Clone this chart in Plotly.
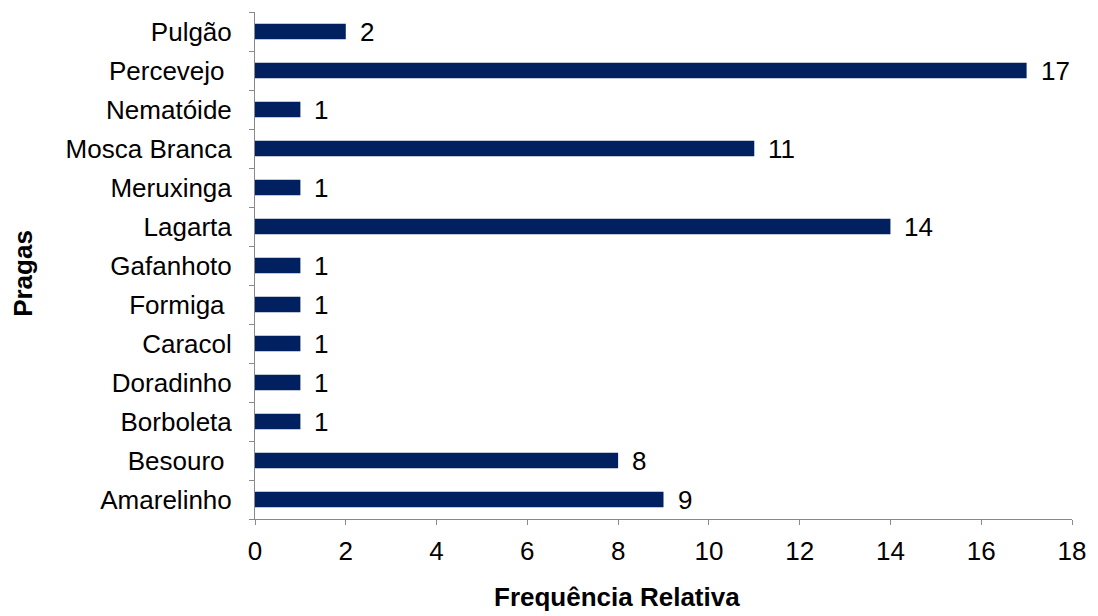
import plotly.graph_objects as go

# Pest categories (bottom to top) and their relative frequency
pragas = ["Amarelinho", "Besouro\u00a0", "Borboleta", "Doradinho", "Caracol",
          "Formiga\u00a0", "Gafanhoto", "Lagarta", "Meruxinga", "Mosca Branca",
          "Nematóide", "Percevejo\u00a0", "Pulgão"]
frequencia = [9, 8, 1, 1, 1, 1, 1, 14, 1, 11, 1, 17, 2]
x_ticks = [0, 2, 4, 6, 8, 10, 12, 14, 16, 18]

FONT = "Liberation Sans, Arial, sans-serif"
AXIS = "#898989"
BAR = "#002060"

W, H = 1098, 616
L, R, T, B = 255, 23, 12, 97
pw, ph = W - L - R, H - T - B

fig = go.Figure(go.Bar(
    x=frequencia,
    y=pragas,
    orientation="h",
    width=0.4,
    marker=dict(color=BAR, line=dict(width=0)),
    hoverinfo="x+y",
))

# value labels to the right of each bar
for v, p in zip(frequencia, pragas):
    fig.add_annotation(x=v, y=p, text=str(v), showarrow=False,
                       xanchor="left", yanchor="middle", xshift=12,
                       font=dict(family=FONT, size=26, color="#000000"))

# axis titles, positioned in pixels relative to the plot area
fig.add_annotation(x=(618 - L) / pw, y=(H - B - 597) / ph, xref="paper", yref="paper",
                   xanchor="center", yanchor="middle",
                   text="<b>Frequência Relativa</b>", showarrow=False,
                   font=dict(family=FONT, size=26, color="#000000"))
fig.add_annotation(x=(22 - L) / pw, y=(H - B - 273) / ph, xref="paper", yref="paper",
                   xanchor="center", yanchor="middle",
                   text="<b>Pragas</b>", showarrow=False, textangle=-90,
                   font=dict(family=FONT, size=26, color="#000000"))

fig.update_layout(
    width=W, height=H,
    margin=dict(l=L, r=R, t=T, b=B, pad=0),
    plot_bgcolor="#ffffff",
    paper_bgcolor="#ffffff",
    showlegend=False,
    font=dict(family=FONT, size=26, color="#000000"),
    xaxis=dict(
        range=[0, 18],
        tickvals=x_ticks,
        ticktext=[str(t) for t in x_ticks],
        showgrid=False,
        zeroline=False,
        showline=True,
        linecolor=AXIS,
        linewidth=1,
        ticks="outside",
        ticklen=5,
        tickcolor=AXIS,
        tickfont=dict(family=FONT, size=26, color="#000000"),
        ticklabelstandoff=4,
        fixedrange=True,
    ),
    yaxis=dict(
        type="category",
        categoryorder="array",
        categoryarray=pragas,
        range=[-0.5, len(pragas) - 0.5],
        showgrid=False,
        zeroline=False,
        showline=True,
        linecolor=AXIS,
        linewidth=1,
        ticks="outside",
        tickson="boundaries",
        ticklen=5,
        tickcolor=AXIS,
        tickfont=dict(family=FONT, size=26, color="#000000"),
        ticklabelstandoff=17,
        fixedrange=True,
    ),
)

fig.write_html("out.html")
